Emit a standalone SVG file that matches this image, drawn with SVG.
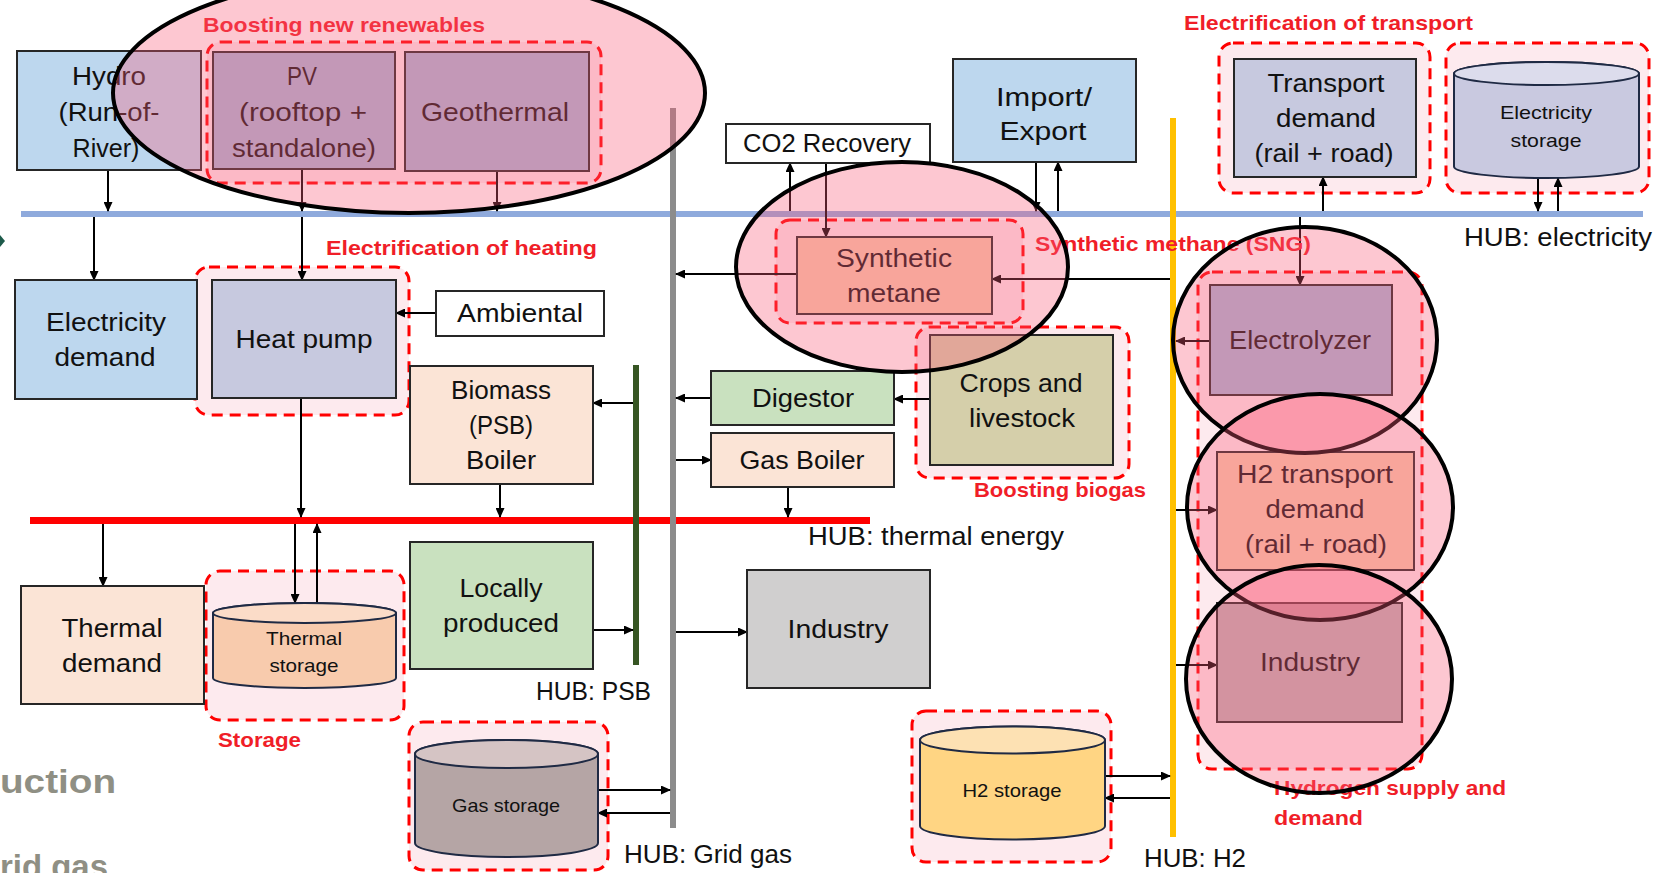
<svg xmlns="http://www.w3.org/2000/svg" width="1660" height="873" viewBox="0 0 1660 873">
<defs>
<marker id="a" markerWidth="10" markerHeight="9" refX="9" refY="4.5" orient="auto" markerUnits="userSpaceOnUse"><path d="M0,0 L10,4.5 L0,9 Z" fill="#000"/></marker>
<style>
.box{stroke:#262626;stroke-width:2}
.t{font-family:"Liberation Sans",Arial,sans-serif;font-size:25px;fill:#111;text-anchor:middle}
.ts{font-family:"Liberation Sans",Arial,sans-serif;font-size:19px;fill:#111;text-anchor:middle}
.h{font-family:"Liberation Sans",Arial,sans-serif;font-size:25px;fill:#111}
.r{font-family:"Liberation Sans",Arial,sans-serif;font-weight:bold;font-size:21px;fill:#f01e28}
.g{font-family:"Liberation Sans",Arial,sans-serif;font-weight:bold;font-size:34px;fill:#8f8f84}
.grp{fill:#fdeaee;stroke:#ff0000;stroke-width:3;stroke-dasharray:11 7}
.ell{fill:#f85a78;fill-opacity:0.34;stroke:#000;stroke-width:4}
.c{stroke:#000;stroke-width:2;fill:none;marker-end:url(#a)}
.cyl{stroke:#1f2a44;stroke-width:2}
</style>
</defs>
<rect width="1660" height="873" fill="#fff"/>
<path d="M0,235 L5,241 L0,247 Z" fill="#1d5a4a"/>
<text class="g" x="0" y="793" textLength="116" lengthAdjust="spacingAndGlyphs">uction</text>
<text class="g" x="0" y="878" textLength="108" lengthAdjust="spacingAndGlyphs">rid gas</text>

<g id="groups">
<rect class="grp" x="207" y="42" width="394" height="141" rx="14"/>
<rect class="grp" x="195" y="267" width="214" height="148" rx="14"/>
<rect class="grp" x="206" y="571" width="198" height="149" rx="14"/>
<rect class="grp" x="409" y="722" width="199" height="148" rx="14"/>
<rect class="grp" x="776" y="220" width="247" height="103" rx="14"/>
<rect class="grp" x="916" y="327" width="213" height="151" rx="14"/>
<rect class="grp" x="1219" y="43" width="211" height="150" rx="14"/>
<rect class="grp" x="1446" y="43" width="203" height="150" rx="14"/>
<rect class="grp" x="1198" y="272" width="224" height="497" rx="14"/>
<rect class="grp" x="912" y="711" width="199" height="151" rx="14"/>
</g>

<g id="hubs">
<rect x="21" y="211" width="1622" height="6" fill="#8faadc"/>
<rect x="30" y="517" width="840" height="7" fill="#ff0000"/>
<rect x="633" y="365" width="6" height="300" fill="#375623"/>
<rect x="670" y="108" width="6" height="720" fill="#8c8c8c"/>
<rect x="1170" y="118" width="6" height="719" fill="#ffc000"/>
<text class="h" x="1464" y="246" textLength="188" lengthAdjust="spacingAndGlyphs">HUB: electricity</text>
<text class="h" x="808" y="545" textLength="256" lengthAdjust="spacingAndGlyphs">HUB: thermal energy</text>
<text class="h" x="536" y="700" textLength="115" lengthAdjust="spacingAndGlyphs">HUB: PSB</text>
<text class="h" x="624" y="863" textLength="168" lengthAdjust="spacingAndGlyphs">HUB: Grid gas</text>
<text class="h" x="1144" y="867" textLength="102" lengthAdjust="spacingAndGlyphs">HUB: H2</text>
</g>

<g id="connectors">
<path class="c" d="M108,170 V211"/>
<path class="c" d="M302,169 V211"/>
<path class="c" d="M497,171 V211"/>
<path class="c" d="M94,217 V280"/>
<path class="c" d="M302,217 V280"/>
<path class="c" d="M436,313 H396"/>
<path class="c" d="M301,398 V517"/>
<path class="c" d="M500,484 V517"/>
<path class="c" d="M633,403 H593"/>
<path class="c" d="M103,524 V586"/>
<path class="c" d="M295,524 V603"/>
<path class="c" d="M317,609 V524"/>
<path class="c" d="M593,630 H633"/>
<path class="c" d="M598,790 H670"/>
<path class="c" d="M670,813 H598"/>
<path class="c" d="M797,274 H676"/>
<path class="c" d="M711,398 H676"/>
<path class="c" d="M676,460 H711"/>
<path class="c" d="M676,632 H747"/>
<path class="c" d="M788,487 V517"/>
<path class="c" d="M930,399 H894"/>
<path class="c" d="M790,211 V163"/>
<path class="c" d="M826,163 V237"/>
<path class="c" d="M1036,162 V211"/>
<path class="c" d="M1058,211 V162"/>
<path class="c" d="M1170,279 H992"/>
<path class="c" d="M1323,211 V177"/>
<path class="c" d="M1538,178 V211"/>
<path class="c" d="M1558,211 V178"/>
<path class="c" d="M1300,217 V285"/>
<path class="c" d="M1210,341 H1176"/>
<path class="c" d="M1176,510 H1217"/>
<path class="c" d="M1176,665 H1217"/>
<path class="c" d="M1105,776 H1170"/>
<path class="c" d="M1170,798 H1105"/>
</g>

<g id="hydro"><rect class="box" x="17" y="51" width="184" height="119" fill="#bdd7ee"/>
<text class="t" x="109" y="85" textLength="74" lengthAdjust="spacingAndGlyphs">Hydro</text>
<text class="t" x="109" y="121" textLength="101" lengthAdjust="spacingAndGlyphs">(Run-of-</text>
<text class="t" x="106" y="157" textLength="67" lengthAdjust="spacingAndGlyphs">River)</text></g>

<g id="pv"><rect class="box" x="213" y="52" width="182" height="117" fill="#a8b8d8"/>
<text class="t" x="302" y="85" textLength="30" lengthAdjust="spacingAndGlyphs">PV</text>
<text class="t" x="303" y="121" textLength="128" lengthAdjust="spacingAndGlyphs">(rooftop +</text>
<text class="t" x="304" y="157" textLength="144" lengthAdjust="spacingAndGlyphs">standalone)</text></g>

<g id="geothermal"><rect class="box" x="405" y="52" width="184" height="119" fill="#a8b8d8"/>
<text class="t" x="495" y="121" textLength="148" lengthAdjust="spacingAndGlyphs">Geothermal</text></g>

<g id="co2"><rect class="box" x="726" y="124" width="204" height="39" fill="#fff"/>
<text class="t" x="827" y="152" textLength="168" lengthAdjust="spacingAndGlyphs">CO2 Recovery</text></g>

<g id="import"><rect class="box" x="953" y="59" width="183" height="103" fill="#bdd7ee"/>
<text class="t" x="1044" y="106" textLength="96" lengthAdjust="spacingAndGlyphs">Import/</text>
<text class="t" x="1043" y="140" textLength="87" lengthAdjust="spacingAndGlyphs">Export</text></g>

<g id="transport"><rect class="box" x="1234" y="59" width="182" height="118" fill="#c7c9df"/>
<text class="t" x="1326" y="92" textLength="117" lengthAdjust="spacingAndGlyphs">Transport</text>
<text class="t" x="1326" y="127" textLength="100" lengthAdjust="spacingAndGlyphs">demand</text>
<text class="t" x="1324" y="162" textLength="139" lengthAdjust="spacingAndGlyphs">(rail + road)</text></g>

<g id="elecstorage">
<path class="cyl" d="M1454,73.5 V166.5 A92.5,11.5 0 0 0 1639,166.5 V73.5 A92.5,11.5 0 0 0 1454,73.5 Z" fill="#c9c9e0"/>
<ellipse class="cyl" cx="1546.5" cy="73.5" rx="92.5" ry="11.5" fill="#dcdcec"/>
<text class="ts" x="1546" y="119" textLength="92" lengthAdjust="spacingAndGlyphs">Electricity</text>
<text class="ts" x="1546" y="147" textLength="71" lengthAdjust="spacingAndGlyphs">storage</text></g>

<g id="elecdemand"><rect class="box" x="15" y="280" width="182" height="119" fill="#bdd7ee"/>
<text class="t" x="106" y="331" textLength="120" lengthAdjust="spacingAndGlyphs">Electricity</text>
<text class="t" x="105" y="366" textLength="101" lengthAdjust="spacingAndGlyphs">demand</text></g>

<g id="heatpump"><rect class="box" x="212" y="280" width="184" height="118" fill="#c7c9df"/>
<text class="t" x="304" y="348" textLength="137" lengthAdjust="spacingAndGlyphs">Heat pump</text></g>

<g id="ambiental"><rect class="box" x="436" y="291" width="168" height="45" fill="#fff"/>
<text class="t" x="520" y="322" textLength="126" lengthAdjust="spacingAndGlyphs">Ambiental</text></g>

<g id="biomass"><rect class="box" x="410" y="366" width="183" height="118" fill="#fbe4d6"/>
<text class="t" x="501" y="399" textLength="100" lengthAdjust="spacingAndGlyphs">Biomass</text>
<text class="t" x="501" y="434" textLength="64" lengthAdjust="spacingAndGlyphs">(PSB)</text>
<text class="t" x="501" y="469" textLength="70" lengthAdjust="spacingAndGlyphs">Boiler</text></g>

<g id="synthetic"><rect class="box" x="797" y="237" width="195" height="77" fill="#f8cbad"/>
<text class="t" x="894" y="267" textLength="116" lengthAdjust="spacingAndGlyphs">Synthetic</text>
<text class="t" x="894" y="302" textLength="94" lengthAdjust="spacingAndGlyphs">metane</text></g>

<g id="digestor"><rect class="box" x="711" y="371" width="183" height="54" fill="#c9e1bf"/>
<text class="t" x="803" y="407" textLength="102" lengthAdjust="spacingAndGlyphs">Digestor</text></g>

<g id="gasboiler"><rect class="box" x="711" y="433" width="183" height="54" fill="#fbe4d6"/>
<text class="t" x="802" y="469" textLength="125" lengthAdjust="spacingAndGlyphs">Gas Boiler</text></g>

<g id="crops"><rect class="box" x="930" y="335" width="183" height="130" fill="#d5cfaa"/>
<text class="t" x="1021" y="392" textLength="123" lengthAdjust="spacingAndGlyphs">Crops and</text>
<text class="t" x="1022" y="427" textLength="106" lengthAdjust="spacingAndGlyphs">livestock</text></g>

<g id="electrolyzer"><rect class="box" x="1210" y="285" width="182" height="110" fill="#a8b8d8"/>
<text class="t" x="1300" y="349" textLength="142" lengthAdjust="spacingAndGlyphs">Electrolyzer</text></g>

<g id="h2transport"><rect class="box" x="1217" y="452" width="197" height="118" fill="#f8cbad"/>
<text class="t" x="1315" y="483" textLength="156" lengthAdjust="spacingAndGlyphs">H2 transport</text>
<text class="t" x="1315" y="518" textLength="99" lengthAdjust="spacingAndGlyphs">demand</text>
<text class="t" x="1316" y="553" textLength="142" lengthAdjust="spacingAndGlyphs">(rail + road)</text></g>

<g id="industryh2"><rect class="box" x="1217" y="603" width="185" height="119" fill="#c0b0b5"/>
<text class="t" x="1310" y="671" textLength="100" lengthAdjust="spacingAndGlyphs">Industry</text></g>

<g id="thermaldemand"><rect class="box" x="21" y="586" width="183" height="118" fill="#fbe4d6"/>
<text class="t" x="112" y="637" textLength="101" lengthAdjust="spacingAndGlyphs">Thermal</text>
<text class="t" x="112" y="672" textLength="100" lengthAdjust="spacingAndGlyphs">demand</text></g>

<g id="thermalstorage">
<path class="cyl" d="M213,613 V678 A91.5,10 0 0 0 396,678 V613 A91.5,10 0 0 0 213,613 Z" fill="#f8cbad"/>
<ellipse class="cyl" cx="304.5" cy="613" rx="91.5" ry="10" fill="#fbdcc8"/>
<text class="ts" x="304" y="645" textLength="76" lengthAdjust="spacingAndGlyphs">Thermal</text>
<text class="ts" x="304" y="672" textLength="69" lengthAdjust="spacingAndGlyphs">storage</text></g>

<g id="locally"><rect class="box" x="410" y="542" width="183" height="127" fill="#c9e1bf"/>
<text class="t" x="501" y="597" textLength="83" lengthAdjust="spacingAndGlyphs">Locally</text>
<text class="t" x="501" y="632" textLength="116" lengthAdjust="spacingAndGlyphs">produced</text></g>

<g id="industry"><rect class="box" x="747" y="570" width="183" height="118" fill="#d0cfcf"/>
<text class="t" x="838" y="638" textLength="101" lengthAdjust="spacingAndGlyphs">Industry</text></g>

<g id="gasstorage">
<path class="cyl" d="M415,754 V843 A91.5,14 0 0 0 598,843 V754 A91.5,14 0 0 0 415,754 Z" fill="#b5a5a5"/>
<ellipse class="cyl" cx="506.5" cy="754" rx="91.5" ry="14" fill="#d5c4c4"/>
<text class="ts" x="506" y="812" textLength="108" lengthAdjust="spacingAndGlyphs">Gas storage</text></g>

<g id="h2storage">
<path class="cyl" d="M920,740 V826 A92.5,13.5 0 0 0 1105,826 V740 A92.5,13.5 0 0 0 920,740 Z" fill="#ffd583"/>
<ellipse class="cyl" cx="1012.5" cy="740" rx="92.5" ry="13.5" fill="#fde1b3"/>
<text class="ts" x="1012" y="797" textLength="99" lengthAdjust="spacingAndGlyphs">H2 storage</text></g>

<g id="labels">
<text class="r" x="203" y="32" textLength="282" lengthAdjust="spacingAndGlyphs">Boosting new renewables</text>
<text class="r" x="326" y="255" textLength="271" lengthAdjust="spacingAndGlyphs">Electrification of heating</text>
<text class="r" x="1184" y="30" textLength="289" lengthAdjust="spacingAndGlyphs">Electrification of transport</text>
<text class="r" x="1035" y="251" textLength="276" lengthAdjust="spacingAndGlyphs">Synthetic methane (SNG)</text>
<text class="r" x="974" y="497" textLength="172" lengthAdjust="spacingAndGlyphs">Boosting biogas</text>
<text class="r" x="218" y="747" textLength="83" lengthAdjust="spacingAndGlyphs">Storage</text>
<text class="r" x="1274" y="795" textLength="232" lengthAdjust="spacingAndGlyphs">Hydrogen supply and</text>
<text class="r" x="1274" y="825" textLength="89" lengthAdjust="spacingAndGlyphs">demand</text>
</g>

<g id="highlights">
<ellipse class="ell" cx="409" cy="93" rx="296" ry="120"/>
<ellipse class="ell" cx="902" cy="267" rx="166" ry="105"/>
<ellipse class="ell" cx="1305" cy="340" rx="132" ry="113"/>
<ellipse class="ell" cx="1320" cy="507" rx="133" ry="113"/>
<ellipse class="ell" cx="1319" cy="679" rx="133" ry="114"/>
</g>
</svg>
